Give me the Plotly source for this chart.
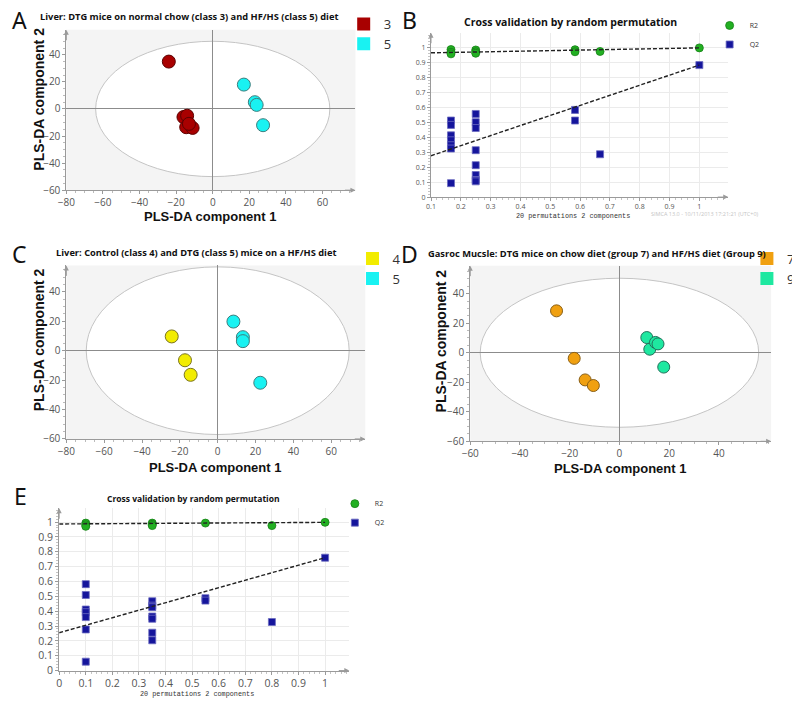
import plotly.graph_objects as go

# the page body keeps its default 8px margin, so the figure is drawn 8px smaller
# and every reference pixel position is shifted by OFF
OFF = 8
W, H = 800 - OFF, 706 - OFF

# ---------------- data ----------------
# A: liver, DTG mice on chow (class 3) vs HF/HS (class 5)
a_cls3_x = [-24, -16, -14, -14.5, -11, -13]
a_cls3_y = [35, -6, -5, -13.5, -14, -11]
a_cls5_x = [17, 23, 24, 27.5]
a_cls5_y = [18, 5, 3, -12]
a_ellipse = [64, 50]
a_xticks = [-80, -60, -40, -20, 0, 20, 40, 60]
a_yticks = [-60, -40, -20, 0, 20, 40]

# B: permutation test for model A
b_r2_x = [0.167, 0.167, 0.167, 0.25, 0.25, 0.25, 0.583, 0.583, 0.667, 1.0]
b_r2_y = [0.985, 0.967, 0.956, 0.982, 0.97, 0.96, 0.984, 0.97, 0.972, 0.996]
b_q2_x = [0.167, 0.167, 0.167, 0.167, 0.167, 0.167, 0.167,
          0.25, 0.25, 0.25, 0.25, 0.25, 0.25, 0.25, 0.25,
          0.583, 0.583, 0.667, 1.0]
b_q2_y = [0.511, 0.482, 0.412, 0.379, 0.346, 0.324, 0.093,
          0.555, 0.50, 0.461, 0.313, 0.213, 0.147, 0.114, 0.105,
          0.582, 0.511, 0.286, 0.881]
b_r2_fit_x = [0.1, 1.0]
b_r2_fit_y = [0.963, 0.996]
b_q2_fit_x = [0.1, 1.0]
b_q2_fit_y = [0.276, 0.881]

# C: liver, control (class 4) vs DTG (class 5) on HF/HS
c_cls4_x = [-24.3, -17.3, -14.3]
c_cls4_y = [9.7, -6.5, -16.4]
c_cls5_x = [8.3, 13.3, 13.3, 22.5]
c_cls5_y = [19.8, 9.2, 6.5, -21.8]
c_ellipse = [69.5, 57]

# D: gastrocnemius, DTG chow (group 7) vs HF/HS (group 9)
d_grp7_x = [-25.3, -18.2, -13.8, -10.5]
d_grp7_y = [28.4, -3.8, -18.4, -22.2]
d_grp9_x = [11.0, 12.2, 14.5, 15.5, 17.8]
d_grp9_y = [10.3, 2.4, 7.0, 6.0, -9.7]
d_ellipse = [56, 50.5]
d_xticks = [-60, -40, -20, 0, 20, 40]

# E: permutation test for model D
e_r2_x = [0.1, 0.1, 0.1, 0.35, 0.35, 0.35, 0.55, 0.8, 1.0]
e_r2_y = [0.993, 0.982, 0.971, 0.993, 0.985, 0.976, 0.993, 0.976, 0.998]
e_q2_x = [0.1, 0.1, 0.1, 0.1, 0.1, 0.1, 0.1,
          0.35, 0.35, 0.35, 0.35, 0.35, 0.35, 0.35,
          0.55, 0.55, 0.8, 1.0]
e_q2_y = [0.582, 0.509, 0.411, 0.393, 0.36, 0.277, 0.06,
          0.467, 0.437, 0.427, 0.364, 0.349, 0.255, 0.204,
          0.487, 0.471, 0.327, 0.76]
e_r2_fit_x = [0.0, 1.0]
e_r2_fit_y = [0.987, 0.998]
e_q2_fit_x = [0.0, 1.0]
e_q2_fit_y = [0.255, 0.76]
perm_ticks = [0, 0.1, 0.2, 0.3, 0.4, 0.5, 0.6, 0.7, 0.8, 0.9, 1]

# ---------------- styling ----------------
grey = '#9a9a9a'
col3, col3_edge = '#a80000', '#5c0000'
col5, col5_edge = '#19f2f2', '#3d7d7d'
col4, col4_edge = '#f2ec00', '#7a7420'
col7, col7_edge = '#f0a010', '#8a5f15'
col9, col9_edge = '#1ee8a0', '#22705a'
r2_col, r2_edge = '#22b022', '#178017'
q2_col, q2_edge = '#15159c', '#6b6bc0'


def px_dom(x0, x1, y0, y1):
    # reference pixel box -> paper domains
    return [(x0 - OFF) / W, (x1 - OFF) / W], [1 - (y1 - OFF) / H, 1 - (y0 - OFF) / H]


def score_axis(dom, anchor, rng, ticks, size=10):
    return dict(domain=dom, anchor=anchor, range=rng, tickvals=ticks,
                showgrid=False, zeroline=True, zerolinecolor='#8c8c8c', zerolinewidth=1,
                showline=True, linecolor=grey, ticks='outside', ticklen=3, tickcolor=grey,
                minor=dict(ticks='outside', ticklen=2, dtick=5, tickcolor='#bbbbbb'),
                tickfont=dict(family='Open Sans', size=size, color='#555'))


def perm_axis(dom, anchor, rng, size, dtick=0.1):
    return dict(domain=dom, anchor=anchor, range=rng, dtick=dtick, tick0=0,
                showgrid=True, gridcolor='#ebebeb', gridwidth=1, zeroline=False,
                showline=True, linecolor=grey, ticks='outside', ticklen=3, tickcolor=grey,
                minor=dict(ticks='outside', ticklen=2, dtick=0.02, tickcolor='#c4c4c4'),
                tickfont=dict(family='Open Sans', size=size, color='#555'))


fig = go.Figure()


def score_points(xs, ys, col, edge, xa, ya, size=13):
    fig.add_trace(go.Scatter(x=xs, y=ys, mode='markers', xaxis=xa, yaxis=ya, showlegend=False,
                             marker=dict(size=size, color=col, line=dict(color=edge, width=1))))


def legend_key(name, col, leg):
    fig.add_trace(go.Scatter(x=[None], y=[None], mode='markers', name=name, legend=leg,
                             marker=dict(symbol='square', size=13, color=col)))


score_points(a_cls3_x, a_cls3_y, col3, col3_edge, 'x', 'y')
score_points(a_cls5_x, a_cls5_y, col5, col5_edge, 'x', 'y')
legend_key('3', col3, 'legend')
legend_key('5', col5, 'legend')

score_points(c_cls4_x, c_cls4_y, col4, col4_edge, 'x3', 'y3')
score_points(c_cls5_x, c_cls5_y, col5, col5_edge, 'x3', 'y3')
legend_key('4', col4, 'legend3')
legend_key('5', col5, 'legend3')

score_points(d_grp7_x, d_grp7_y, col7, col7_edge, 'x4', 'y4', size=12)
score_points(d_grp9_x, d_grp9_y, col9, col9_edge, 'x4', 'y4', size=12)
legend_key('7', col7, 'legend4')
legend_key('9', col9, 'legend4')


def perm_panel(r2x, r2y, q2x, q2y, r2fx, r2fy, q2fx, q2fy, xa, ya, leg):
    fig.add_trace(go.Scatter(x=r2x, y=r2y, mode='markers', name='R2', xaxis=xa, yaxis=ya, legend=leg,
                             marker=dict(size=8, color=r2_col, line=dict(color=r2_edge, width=0.8))))
    fig.add_trace(go.Scatter(x=q2x, y=q2y, mode='markers', name='Q2', xaxis=xa, yaxis=ya, legend=leg,
                             marker=dict(symbol='square', size=7, color=q2_col,
                                         line=dict(color=q2_edge, width=0.8))))
    for fx, fy in [(r2fx, r2fy), (q2fx, q2fy)]:
        fig.add_trace(go.Scatter(x=fx, y=fy, mode='lines', xaxis=xa, yaxis=ya, showlegend=False,
                                 line=dict(color='#222', width=1.4, dash='4px,2px')))


perm_panel(b_r2_x, b_r2_y, b_q2_x, b_q2_y, b_r2_fit_x, b_r2_fit_y, b_q2_fit_x, b_q2_fit_y,
           'x2', 'y2', 'legend2')
perm_panel(e_r2_x, e_r2_y, e_q2_x, e_q2_y, e_r2_fit_x, e_r2_fit_y, e_q2_fit_x, e_q2_fit_y,
           'x5', 'y5', 'legend5')

# ---------------- axes ----------------
ax_a, ay_a = px_dom(58.3, 353, 30, 192)
ax_b, ay_b = px_dom(430, 733, 33, 199)
ax_c, ay_c = px_dom(58.3, 363, 268, 443.3)
ax_d, ay_d = px_dom(470, 776.7, 268.3, 445.7)
ax_e, ay_e = px_dom(51, 346.7, 513.3, 677.3)

fig.update_layout(
    xaxis=score_axis(ax_a, 'y', [-80, 78], a_xticks),
    yaxis=score_axis(ay_a, 'x', [-60, 58.5], a_yticks),
    xaxis2=perm_axis(ax_b, 'y2', [0.1, 1.097], 7),
    yaxis2=perm_axis(ay_b, 'x2', [0, 1.097], 7),
    xaxis3=score_axis(ax_c, 'y3', [-80, 78], a_xticks),
    yaxis3=score_axis(ay_c, 'x3', [-60, 58], a_yticks),
    xaxis4=score_axis(ax_d, 'y4', [-60, 61], d_xticks),
    yaxis4=score_axis(ay_d, 'x4', [-60, 59], a_yticks),
    xaxis5=perm_axis(ax_e, 'y5', [0, 1.091], 10.5),
    yaxis5=perm_axis(ay_e, 'x5', [0, 1.093], 10.5),
)
fig.update_xaxes(tickvals=perm_ticks[1:], selector=dict(anchor='y2'))
fig.update_xaxes(tickvals=perm_ticks, selector=dict(anchor='y5'))

# grey frame + white confidence ellipse for score plots
shapes = []
for n, ell in [('', a_ellipse), ('3', c_ellipse), ('4', d_ellipse)]:
    shapes.append(dict(type='rect', xref='x%s domain' % n, yref='y%s domain' % n,
                       x0=0, x1=1, y0=0, y1=1, fillcolor='#f4f4f4', line_width=0, layer='below'))
    shapes.append(dict(type='circle', xref='x' + n, yref='y' + n,
                       x0=-ell[0], x1=ell[0], y0=-ell[1], y1=ell[1],
                       fillcolor='white', line=dict(color='#c4c4c4', width=1), layer='below'))

# arrow heads at the ends of every axis
ann = []
for n in ['', '2', '3', '4', '5']:
    ann.append(dict(xref='x%s domain' % n, yref='y%s domain' % n, x=1, y=0, ax=-12, ay=0, text='',
                    showarrow=True, arrowhead=2, arrowsize=1, arrowwidth=1, arrowcolor=grey))
    ann.append(dict(xref='x%s domain' % n, yref='y%s domain' % n, x=0, y=1, ax=0, ay=12, text='',
                    showarrow=True, arrowhead=2, arrowsize=1, arrowwidth=1, arrowcolor=grey))


def txt(s, x, y, size, family='Open Sans', bold=False, color='#111', angle=0, anchor='center'):
    ann.append(dict(text=s, xref='paper', yref='paper', x=(x - OFF) / W, y=1 - (y - OFF) / H,
                    xanchor=anchor, yanchor='middle', showarrow=False, textangle=angle,
                    font=dict(family=family, size=size, color=color,
                              weight='bold' if bold else 'normal')))


# panel letters
for s, x, y in [('A', 11, 20), ('B', 408, 20), ('C', 11, 256), ('D', 408, 256), ('E', 12, 501)]:
    txt(s, x, y, 23, family='Noto Sans', color='#111')

# titles
txt('Liver: DTG mice on normal chow (class 3) and HF/HS (class 5) diet', 183, 17, 9.3, bold=True)
txt('Liver: Control (class 4) and DTG (class 5) mice on a HF/HS diet', 190, 255, 9.3, bold=True)
txt('Gasroc Mucsle: DTG mice on chow diet (group 7) and HF/HS diet (Group 9)', 599, 256, 9.3, bold=True)
txt('Cross validation by random permutation', 572, 22, 10.5, bold=True)
txt('Cross validation by random permutation', 188, 503, 8.5, bold=True)

# axis titles
for x, y in [(205, 219), (210, 472), (623, 473)]:
    txt('PLS-DA component 1', x, y, 13, family='Liberation Sans', bold=True)
for x, y in [(30, 100), (30, 343), (440, 344)]:
    txt('PLS-DA component 2', x, y, 14, family='Liberation Sans', bold=True, angle=-90)
txt('20 permutations 2 components', 575, 218, 6.8, family='Liberation Mono', color='#333')
txt('20 permutations 2 components', 191, 701, 6.8, family='Liberation Mono', color='#333')
txt('SIMCA 13.0 - 10/11/2013 17:21:21 (UTC+0)', 709, 216, 5.5, color='#c4c4c4')


def leg(x, y, size):
    return dict(x=(x - OFF) / W, y=1 - (y - OFF) / H, xanchor='left', yanchor='top',
                bgcolor='rgba(0,0,0,0)', font=dict(family='Open Sans', size=size, color='#333'),
                itemwidth=30, tracegroupgap=0, itemclick=False)


fig.update_layout(
    width=W, height=H, margin=dict(l=0, r=0, t=0, b=0),
    paper_bgcolor='white', plot_bgcolor='white',
    shapes=shapes, annotations=ann,
    legend=leg(341, 9, 13), legend2=leg(714, 11, 7), legend3=leg(350, 246, 13),
    legend4=leg(752, 246, 13), legend5=leg(332, 494, 7),
)

fig.write_html("out.html")
